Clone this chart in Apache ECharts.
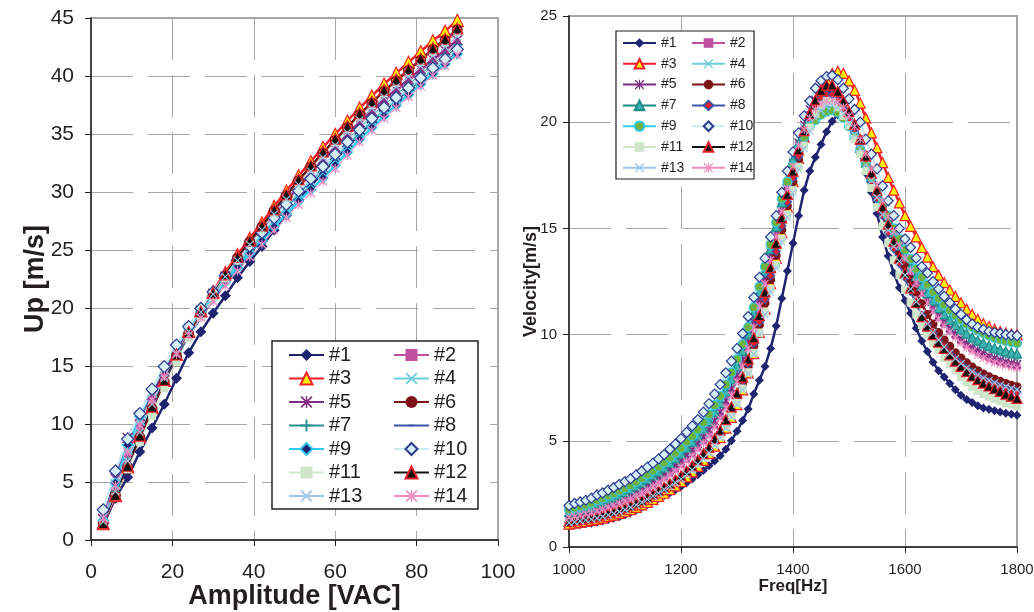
<!DOCTYPE HTML>
<html>
<head>
    <meta charset="utf-8">
    <title>Up and velocity of 14 transducers</title>
    <script src="https://cdn.jsdelivr.net/npm/echarts@6.0.0/dist/echarts.min.js"></script>
    <style>
        html, body { margin: 0; padding: 0; background: #fff; }
        #main { width: 1034px; height: 612px; }
    </style>
</head>
<body>
<div id="main"></div>
<script type="text/javascript">

    // ---- left chart: Up [m/s] vs Amplitude [VAC] ----
    var amplitude = [3,6,9,12,15,18,21,24,27,30,33,36,39,42,45,48,51,54,57,60,63,66,69,72,75,78,81,84,87,90];

    var up1  = [1.3,3.6,5.4,7.6,9.65,11.7,13.95,16.15,17.95,19.55,21.05,22.6,24.0,25.3,26.7,28.0,29.3,30.5,31.7,32.8,33.9,35.0,36.0,37.0,37.9,38.8,39.7,40.6,41.35,42.2];
    var up2  = [1.75,4.55,7.4,9.8,12.1,14.2,16.2,17.95,19.57,21.05,22.52,23.9,25.24,26.49,27.83,29.07,30.31,31.46,32.6,33.67,34.75,35.82,36.8,37.77,38.64,39.51,40.38,41.25,42.03,42.9];
    var up3  = [1.4,3.82,6.3,8.9,11.4,13.75,16.0,18.0,19.79,21.42,23.06,24.6,26.02,27.34,28.76,30.08,31.4,32.63,33.85,34.98,36.12,37.25,38.28,39.31,40.24,41.18,42.11,43.04,43.87,44.8];
    var up4  = [1.85,4.8,7.8,10.3,12.7,14.7,16.6,18.25,19.78,21.15,22.52,23.8,25.07,26.24,27.51,28.69,29.86,30.93,32.0,33.07,34.15,35.22,36.19,37.16,38.04,38.91,39.78,40.65,41.43,42.3];
    var up5  = [1.8,5.3,8.8,10.7,12.5,14.52,16.43,18.1,19.74,21.22,22.71,24.1,25.44,26.69,28.03,29.27,30.51,31.66,32.8,33.87,34.95,36.02,36.99,37.96,38.84,39.71,40.58,41.45,42.23,43.1];
    var up6  = [1.5,3.85,6.3,8.85,11.3,13.62,15.83,17.8,19.56,21.17,22.78,24.3,25.69,26.98,28.37,29.67,30.96,32.15,33.35,34.45,35.56,36.66,37.67,38.68,39.58,40.49,41.39,42.3,43.1,44.0];
    var up7  = [1.55,4.2,6.9,9.4,11.8,13.9,15.9,17.65,19.27,20.75,22.22,23.6,24.94,26.19,27.53,28.77,30.01,31.16,32.3,33.38,34.46,35.55,36.53,37.51,38.39,39.27,40.15,41.04,41.82,42.7];
    var up8  = [1.45,4.0,6.6,9.1,11.5,13.63,15.67,17.45,19.07,20.55,22.02,23.4,24.74,25.99,27.33,28.57,29.81,30.96,32.1,33.18,34.26,35.35,36.33,37.31,38.19,39.07,39.95,40.84,41.62,42.5];
    var up9  = [1.7,4.9,8.2,10.65,13.0,14.9,16.7,18.25,19.7,21.0,22.3,23.5,24.7,25.8,27.0,28.1,29.2,30.2,31.2,32.31,33.43,34.54,35.55,36.56,37.48,38.39,39.3,40.21,41.03,41.9];
    var up10 = [2.6,5.95,8.7,10.9,13.0,14.95,16.8,18.4,19.96,21.38,22.79,24.1,25.36,26.51,27.77,28.93,30.09,31.14,32.2,33.25,34.31,35.36,36.32,37.27,38.13,38.98,39.84,40.69,41.45,42.3];
    var up11 = [1.4,3.72,6.1,8.45,10.7,13.08,15.37,17.4,19.21,20.88,22.54,24.1,25.5,26.8,28.2,29.5,30.8,32.0,33.2,34.3,35.4,36.5,37.5,38.5,39.4,40.3,41.2,42.1,42.9,43.8];
    var up12 = [1.45,3.9,6.4,9.0,11.5,13.8,16.0,17.95,19.7,21.3,22.9,24.4,25.8,27.1,28.5,29.8,31.1,32.3,33.5,34.6,35.7,36.8,37.8,38.8,39.7,40.6,41.5,42.4,43.2,44.1];
    var up13 = [1.6,4.18,6.8,9.3,11.7,13.95,16.1,18.0,19.66,21.18,22.69,24.1,25.46,26.73,28.09,29.36,30.62,31.79,32.95,34.04,35.12,36.21,37.2,38.18,39.07,39.95,40.84,41.73,42.51,43.4];
    var up14 = [1.9,4.7,7.6,9.9,12.1,14.1,16.0,17.65,19.17,20.55,21.92,23.2,24.4,25.5,26.7,27.8,28.9,29.9,30.9,32.03,33.15,34.28,35.31,36.34,37.26,38.19,39.12,40.05,40.87,41.8];

    // ---- right chart: Velocity[m/s] vs Freq[Hz] ----
    var freq = [1000,1010,1020,1030,1040,1050,1060,1070,1080,1090,
                1100,1110,1120,1130,1140,1150,1160,1170,1180,1190,
                1200,1210,1220,1230,1240,1250,1260,1270,1280,1290,
                1300,1310,1320,1330,1340,1350,1360,1370,1380,1390,
                1400,1410,1420,1430,1440,1450,1460,1470,1480,1490,
                1500,1510,1520,1530,1540,1550,1560,1570,1580,1590,
                1600,1610,1620,1630,1640,1650,1660,1670,1680,1690,
                1700,1710,1720,1730,1740,1750,1760,1770,1780,1790,
                1800];

    var vel1 = [1.0,1.03,1.06,1.09,1.12,1.16,1.22,1.29,1.36,1.43,
                1.52,1.62,1.74,1.87,2.0,2.15,2.28,2.42,2.56,2.7,
                2.85,3.02,3.2,3.4,3.6,3.82,4.05,4.3,4.6,5.0,
                5.45,5.95,6.5,7.2,7.85,8.5,9.35,10.4,11.7,13.0,
                14.3,15.6,16.8,17.7,18.35,18.95,19.55,20.05,20.35,20.3,
                19.9,19.3,18.5,17.6,16.7,15.7,14.6,13.7,12.9,12.2,
                11.6,11.0,10.3,9.7,9.2,8.7,8.3,8.0,7.7,7.4,
                7.15,6.95,6.8,6.65,6.55,6.48,6.42,6.36,6.3,6.25,
                6.2];
    var vel2 = [1.43,1.48,1.54,1.6,1.66,1.75,1.83,1.92,2.02,2.12,
                2.22,2.34,2.48,2.61,2.77,2.94,3.1,3.28,3.47,3.67,
                3.88,4.13,4.38,4.67,4.99,5.32,5.73,6.15,6.66,7.25,
                7.88,8.62,9.45,10.42,11.44,12.48,13.59,14.69,15.86,16.93,
                17.97,18.94,19.7,20.35,20.8,21.05,21.2,21.2,21.05,20.7,
                20.25,19.7,19.05,18.35,17.6,16.85,16.1,15.4,14.7,14.05,
                13.45,12.9,12.4,11.95,11.55,11.15,10.8,10.5,10.2,9.95,
                9.7,9.5,9.32,9.17,9.03,8.9,8.8,8.7,8.62,8.56,
                8.5];
    var vel3 = [1.08,1.12,1.16,1.2,1.25,1.3,1.36,1.43,1.5,1.58,
                1.66,1.76,1.87,1.98,2.1,2.24,2.38,2.53,2.7,2.88,
                3.08,3.3,3.54,3.8,4.08,4.4,4.75,5.15,5.6,6.1,
                6.7,7.4,8.2,9.1,10.1,11.2,12.4,13.6,14.8,16.0,
                17.2,18.3,19.3,20.2,20.95,21.55,22.0,22.3,22.4,22.3,
                21.95,21.5,20.9,20.2,19.5,18.8,18.1,17.4,16.8,16.2,
                15.6,15.1,14.6,14.1,13.65,13.2,12.8,12.45,12.1,11.8,
                11.5,11.2,10.95,10.72,10.52,10.38,10.25,10.15,10.08,10.02,
                10.0];
    var vel4 = [1.58,1.65,1.71,1.77,1.85,1.95,2.04,2.14,2.24,2.36,
                2.47,2.59,2.74,2.89,3.06,3.23,3.4,3.59,3.79,4.01,
                4.23,4.49,4.76,5.05,5.38,5.73,6.15,6.58,7.1,7.68,
                8.3,9.03,9.85,10.8,11.8,12.8,13.88,14.95,16.1,17.15,
                18.15,19.05,19.75,20.3,20.65,20.9,21.0,21.0,20.85,20.5,
                20.05,19.5,18.9,18.2,17.5,16.8,16.1,15.45,14.8,14.2,
                13.65,13.15,12.7,12.25,11.85,11.5,11.15,10.85,10.55,10.3,
                10.08,9.88,9.7,9.55,9.4,9.28,9.17,9.08,9.0,8.94,
                8.9];
    var vel5 = [1.5,1.56,1.62,1.68,1.75,1.85,1.93,2.03,2.13,2.24,
                2.34,2.46,2.61,2.75,2.91,3.08,3.25,3.43,3.63,3.84,
                4.05,4.31,4.57,4.86,5.18,5.52,5.94,6.36,6.88,7.46,
                8.09,8.82,9.65,10.61,11.62,12.64,13.73,14.82,15.98,17.04,
                18.06,19.02,19.88,20.6,21.05,21.3,21.4,21.4,21.2,20.8,
                20.3,19.75,19.1,18.4,17.7,16.95,16.2,15.5,14.8,14.15,
                13.55,13.0,12.5,12.05,11.65,11.25,10.9,10.6,10.3,10.05,
                9.8,9.6,9.42,9.27,9.13,9.0,8.9,8.81,8.73,8.66,
                8.6];
    var vel6 = [1.17,1.21,1.26,1.3,1.35,1.41,1.48,1.55,1.63,1.71,
                1.8,1.91,2.03,2.15,2.3,2.45,2.59,2.76,2.92,3.09,
                3.28,3.5,3.73,4.0,4.28,4.57,4.94,5.32,5.79,6.36,
                6.98,7.69,8.5,9.45,10.44,11.48,12.58,13.72,14.93,16.06,
                17.19,18.24,19.18,20.0,20.65,21.12,21.4,21.5,21.3,20.9,
                20.4,19.85,19.2,18.45,17.7,16.9,16.1,15.35,14.6,13.9,
                13.25,12.6,12.0,11.45,10.95,10.5,10.1,9.75,9.45,9.15,
                8.9,8.67,8.47,8.3,8.15,8.02,7.9,7.8,7.7,7.62,
                7.55];
    var vel7 = [1.65,1.73,1.79,1.86,1.94,2.05,2.14,2.25,2.35,2.47,
                2.59,2.72,2.87,3.03,3.2,3.37,3.55,3.74,3.95,4.17,
                4.4,4.67,4.95,5.24,5.57,5.93,6.36,6.79,7.32,7.89,
                8.51,9.23,10.05,10.99,11.98,12.96,14.02,15.08,16.22,17.26,
                18.24,19.0,19.7,20.2,20.55,20.8,20.9,20.9,20.75,20.4,
                19.95,19.4,18.8,18.1,17.4,16.7,16.0,15.4,14.8,14.2,
                13.7,13.2,12.75,12.3,11.95,11.6,11.25,10.95,10.7,10.45,
                10.25,10.05,9.87,9.72,9.6,9.48,9.38,9.3,9.22,9.16,
                9.1];
    var vel8 = [1.18,1.22,1.27,1.32,1.36,1.42,1.49,1.57,1.65,1.73,
                1.82,1.93,2.05,2.17,2.32,2.47,2.61,2.78,2.94,3.11,
                3.3,3.52,3.76,4.03,4.32,4.61,5.0,5.38,5.86,6.44,
                7.07,7.8,8.62,9.59,10.6,11.65,12.77,13.91,15.12,16.24,
                17.36,18.39,19.32,20.13,20.78,21.15,21.3,21.3,21.05,20.6,
                20.1,19.5,18.8,18.0,17.2,16.4,15.6,14.8,14.05,13.35,
                12.7,12.05,11.45,10.9,10.45,10.05,9.7,9.4,9.1,8.85,
                8.62,8.4,8.22,8.05,7.9,7.77,7.65,7.55,7.45,7.37,
                7.3];
    var vel9 = [1.76,1.85,1.91,1.99,2.07,2.2,2.29,2.41,2.52,2.65,
                2.77,2.9,3.07,3.24,3.41,3.59,3.78,3.97,4.2,4.43,
                4.66,4.95,5.23,5.53,5.86,6.24,6.68,7.11,7.65,8.21,
                8.83,9.54,10.35,11.28,12.25,13.2,14.24,15.28,16.4,17.2,
                17.9,18.7,19.3,19.8,20.1,20.35,20.5,20.55,20.45,20.2,
                19.8,19.3,18.7,18.1,17.4,16.8,16.2,15.6,15.0,14.5,
                14.0,13.55,13.1,12.7,12.35,12.0,11.7,11.4,11.15,10.9,
                10.7,10.5,10.35,10.2,10.07,9.95,9.85,9.77,9.7,9.65,
                9.6];
    var vel10 = [1.95,2.05,2.12,2.2,2.3,2.45,2.55,2.68,2.8,2.95,
                3.08,3.22,3.4,3.58,3.76,3.95,4.15,4.35,4.6,4.85,
                5.1,5.4,5.7,6.0,6.35,6.75,7.2,7.65,8.2,8.75,
                9.35,10.05,10.85,11.75,12.7,13.6,14.6,15.6,16.7,17.7,
                18.6,19.5,20.3,21.0,21.6,21.95,22.15,22.2,22.0,21.6,
                21.1,20.6,20.0,19.2,18.5,17.8,17.0,16.3,15.6,15.0,
                14.5,14.1,13.6,13.2,12.9,12.5,12.15,11.8,11.5,11.2,
                10.95,10.7,10.5,10.35,10.25,10.15,10.1,10.05,10.0,9.97,
                9.95];
    var vel11 = [1.16,1.2,1.24,1.28,1.33,1.38,1.45,1.52,1.6,1.68,
                1.77,1.88,2.0,2.12,2.27,2.42,2.56,2.72,2.88,3.05,
                3.23,3.44,3.66,3.92,4.2,4.48,4.83,5.2,5.64,6.18,
                6.78,7.46,8.23,9.14,10.1,11.08,12.15,13.28,14.5,15.65,
                16.8,17.9,18.9,19.75,20.4,20.8,21.0,20.95,20.7,20.3,
                19.85,19.2,18.5,17.7,16.9,16.0,15.1,14.3,13.5,12.8,
                12.1,11.5,10.95,10.45,10.0,9.6,9.25,8.9,8.6,8.3,
                8.0,7.75,7.53,7.35,7.2,7.08,6.97,6.87,6.78,6.7,
                6.62];
    var vel12 = [1.2,1.24,1.29,1.34,1.39,1.45,1.52,1.6,1.68,1.76,
                1.85,1.96,2.08,2.2,2.35,2.5,2.65,2.82,2.98,3.16,
                3.35,3.58,3.82,4.1,4.4,4.7,5.1,5.5,6.0,6.6,
                7.25,8.0,8.85,9.85,10.9,12.0,13.15,14.3,15.5,16.6,
                17.7,18.7,19.6,20.4,21.05,21.5,21.75,21.75,21.45,21.0,
                20.5,19.9,19.2,18.4,17.6,16.8,16.0,15.2,14.4,13.6,
                12.9,12.2,11.5,10.85,10.4,10.0,9.65,9.35,9.05,8.75,
                8.5,8.25,8.05,7.88,7.72,7.58,7.45,7.33,7.2,7.1,
                7.0];
    var vel13 = [1.14,1.18,1.22,1.27,1.31,1.36,1.43,1.51,1.58,1.66,
                1.75,1.86,1.98,2.1,2.25,2.4,2.54,2.7,2.85,3.02,
                3.2,3.41,3.63,3.89,4.16,4.44,4.79,5.14,5.58,6.12,
                6.71,7.39,8.15,9.06,9.99,10.95,12.01,13.13,14.36,15.52,
                16.68,17.77,18.76,19.59,20.2,20.55,20.75,20.8,20.7,20.4,
                19.95,19.4,18.75,18.0,17.25,16.45,15.65,14.9,14.15,13.45,
                12.8,12.15,11.55,11.0,10.5,10.1,9.75,9.42,9.13,8.87,
                8.64,8.43,8.25,8.1,7.96,7.84,7.73,7.63,7.55,7.47,
                7.4];
    var vel14 = [1.39,1.44,1.5,1.56,1.62,1.7,1.78,1.87,1.96,2.06,
                2.16,2.28,2.41,2.55,2.7,2.86,3.03,3.2,3.39,3.58,
                3.79,4.04,4.29,4.58,4.89,5.21,5.63,6.04,6.55,7.14,
                7.78,8.51,9.35,10.33,11.35,12.4,13.51,14.63,15.8,16.88,
                17.93,18.9,19.65,20.2,20.6,20.85,21.0,21.05,20.95,20.7,
                20.3,19.8,19.2,18.5,17.8,17.05,16.3,15.55,14.85,14.2,
                13.6,13.0,12.45,11.95,11.5,11.1,10.75,10.42,10.12,9.85,
                9.6,9.38,9.2,9.04,8.9,8.78,8.68,8.6,8.53,8.47,
                8.42];

    var names = ['#1','#2','#3','#4','#5','#6','#7','#8','#9','#10','#11','#12','#13','#14'];
    var upData = [up1, up2, up3, up4, up5, up6, up7, up8, up9, up10, up11, up12, up13, up14];
    var velData = [vel1, vel2, vel3, vel4, vel5, vel6, vel7, vel8, vel9, vel10, vel11, vel12, vel13, vel14];

    // marker shapes that echarts does not have built in
    var xMark = 'path://M1,0 L5,4 L9,0 L10,1 L6,5 L10,9 L9,10 L5,6 L1,10 L0,9 L4,5 L0,1 Z';
    var starMark = 'path://M1,0 L5,4 L9,0 L10,1 L6,5 L10,9 L9,10 L5,6 L1,10 L0,9 L4,5 L0,1 Z M4.4,0 L5.6,0 L5.6,10 L4.4,10 Z';
    var plusMark = 'path://M4.2,0 L5.8,0 L5.8,4.2 L10,4.2 L10,5.8 L5.8,5.8 L5.8,10 L4.2,10 L4.2,5.8 L0,5.8 L0,4.2 L4.2,4.2 Z';
    // tiny corner specks keep the box square so the dash stays thin in the legend too
    var dashMark = 'path://M0,0 L0.01,0 L0,0.01 Z M10,10 L9.99,10 L10,9.99 Z M2,4.3 L8,4.3 L8,5.7 L2,5.7 Z';

    var navy = '#1F2470';

    // style per series: line colour, line width, symbol, size, fill, border
    var leftStyle = [
        { line: navy,      w: 2.5, sym: 'diamond',  size: 11, fill: navy,      border: navy },
        { line: '#C050A0', w: 1,   sym: 'rect',     size: 7,  fill: '#C050A0', border: '#C050A0' },
        { line: '#F0202A', w: 2.5, sym: 'triangle', size: 12, fill: '#FFF200', border: '#F0202A' },
        { line: '#6CCFDA', w: 2.5, sym: xMark,      size: 11, fill: '#6CCFDA', border: '#6CCFDA' },
        { line: '#7F2C83', w: 2.5, sym: starMark,   size: 11, fill: '#7F2C83', border: '#7F2C83' },
        { line: '#7D1418', w: 2.5, sym: 'circle',   size: 11, fill: '#7D1418', border: '#7D1418' },
        { line: '#2A9090', w: 1,   sym: plusMark,   size: 8,  fill: '#2A9090', border: '#2A9090' },
        { line: '#3A56A8', w: 1,   sym: dashMark,   size: 10, fill: '#3A56A8', border: '#3A56A8' },
        { line: '#33C8F0', w: 2.5, sym: 'diamond',  size: 10, fill: navy,      border: '#33C8F0' },
        { line: '#CDEBF2', w: 2.5, sym: 'diamond',  size: 12, fill: '#D6EFF7', border: '#2B3A8F' },
        { line: '#D2E8CC', w: 1,   sym: 'rect',     size: 8,  fill: '#CFE5C8', border: '#CFE5C8' },
        { line: '#111111', w: 1,   sym: 'triangle', size: 11, fill: '#111111', border: '#E8202A' },
        { line: '#9CC7EA', w: 1,   sym: xMark,      size: 8,  fill: '#9CC7EA', border: '#9CC7EA' },
        { line: '#F08CC0', w: 1,   sym: starMark,   size: 9,  fill: '#F08CC0', border: '#F08CC0' }
    ];

    var rightStyle = [
        { line: navy,      w: 2.5, sym: 'diamond',  size: 9,  fill: navy,      border: navy },
        { line: '#C050A0', w: 1,   sym: 'rect',     size: 7,  fill: '#C050A0', border: '#C050A0' },
        { line: '#F0202A', w: 2.5, sym: 'triangle', size: 10, fill: '#FFF200', border: '#F0202A' },
        { line: '#6CCFDA', w: 2.5, sym: xMark,      size: 9,  fill: '#6CCFDA', border: '#6CCFDA' },
        { line: '#7F2C83', w: 2.5, sym: starMark,   size: 9,  fill: '#7F2C83', border: '#7F2C83' },
        { line: '#7D1418', w: 2.5, sym: 'circle',   size: 9,  fill: '#7D1418', border: '#7D1418' },
        { line: '#1F8A86', w: 2.5, sym: 'triangle', size: 9,  fill: '#3BB3B3', border: '#1F8A86' },
        { line: '#3A56A8', w: 2.5, sym: 'diamond',  size: 8,  fill: '#E0202A', border: '#3A56A8' },
        { line: '#33C8F0', w: 2.5, sym: 'circle',   size: 9,  fill: '#6DB33F', border: '#33C8F0' },
        { line: '#CDEBF2', w: 2.5, sym: 'diamond',  size: 10, fill: '#D6EFF7', border: '#2B3A8F' },
        { line: '#D2E8CC', w: 1,   sym: 'rect',     size: 8,  fill: '#CFE5C8', border: '#CFE5C8' },
        { line: '#111111', w: 1,   sym: 'triangle', size: 10, fill: '#111111', border: '#E8202A' },
        { line: '#9CC7EA', w: 1,   sym: xMark,      size: 8,  fill: '#9CC7EA', border: '#9CC7EA' },
        { line: '#F08CC0', w: 1,   sym: starMark,   size: 8,  fill: '#F08CC0', border: '#F08CC0' }
    ];

    var font = 'Arial, "Liberation Sans", Helvetica, sans-serif';
    var ink = '#231F20';
    var gridDash = { color: '#A6A6A6', width: 1, type: [42, 15] };

    function pairs(xs, ys) {
        var out = [];
        for (var i = 0; i < xs.length; i++) {
            out.push([xs[i], ys[i]]);
        }
        return out;
    }

    function makeSeries(prefix, idx, xs, ys, st, gridIndex) {
        var thinBorder = (st.fill !== st.border) ? 1.2 : 0;
        return {
            name: prefix + names[idx],
            type: 'line',
            xAxisIndex: gridIndex,
            yAxisIndex: gridIndex,
            data: pairs(xs, ys),
            symbol: st.sym,
            symbolSize: st.size,
            symbolKeepAspect: true,
            showSymbol: true,
            lineStyle: { color: st.line, width: st.w },
            itemStyle: { color: st.fill, borderColor: st.border, borderWidth: thinBorder },
            emphasis: { disabled: true },
            silent: true,
            animation: false
        };
    }

    function valueAxis(gridIndex, min, max, interval, labelSize, margin, name, nameSize, nameGap) {
        return {
            type: 'value',
            gridIndex: gridIndex,
            min: min,
            max: max,
            interval: interval,
            axisLine: { show: true, onZero: false, lineStyle: { color: ink, width: 1.5 } },
            axisTick: { show: true, length: 6, lineStyle: { color: ink, width: 1 } },
            axisLabel: {
                fontSize: labelSize, color: ink, margin: margin, fontFamily: font,
                formatter: function (v) { return String(v); }
            },
            splitLine: { show: true, lineStyle: gridDash },
            name: name,
            nameLocation: 'middle',
            nameGap: nameGap,
            nameMoveOverlap: false,
            nameTextStyle: { fontSize: nameSize, fontWeight: 'bold', color: ink, fontFamily: font }
        };
    }

    function legendColumn(list, left, top, itemW, itemH, gap, fontSize) {
        return {
            data: list,
            orient: 'vertical',
            left: left,
            top: top,
            itemWidth: itemW,
            itemHeight: itemH,
            itemGap: gap,
            padding: 0,
            selectedMode: false,
            z: 10,
            formatter: function (n) { return n.substring(1); },
            textStyle: { fontSize: fontSize, color: ink, fontFamily: font }
        };
    }

    function buildChart() {
        var chart = echarts.init(document.getElementById('main'), null, { renderer: 'canvas' });

        var series = [];
        for (var i = 0; i < 14; i++) {
            series.push(makeSeries('L', i, amplitude, upData[i], leftStyle[i], 0));
        }
        for (var j = 0; j < 14; j++) {
            series.push(makeSeries('R', j, freq, velData[j], rightStyle[j], 1));
        }

        var lOdd = [], lEven = [], rOdd = [], rEven = [];
        for (var k = 0; k < 14; k++) {
            if (k % 2 === 0) { lOdd.push('L' + names[k]); rOdd.push('R' + names[k]); }
            else { lEven.push('L' + names[k]); rEven.push('R' + names[k]); }
        }

        var option = {
            animation: false,
            backgroundColor: '#ffffff',
            textStyle: { fontFamily: font },
            grid: [
                { left: 91, top: 18, width: 407, height: 522, show: true, borderColor: '#A6A6A6', borderWidth: 2,
                  containLabel: false, outerBoundsMode: 'none' },
                { left: 569, top: 16, width: 448, height: 531, show: true, borderColor: '#A6A6A6', borderWidth: 2,
                  containLabel: false, outerBoundsMode: 'none' }
            ],
            xAxis: [
                valueAxis(0, 0, 100, 20, 21, 22, 'Amplitude [VAC]', 27, 43),
                valueAxis(1, 1000, 1800, 200, 15, 15, 'Freq[Hz]', 17, 31)
            ],
            yAxis: [
                valueAxis(0, 0, 45, 5, 21, 17, 'Up [m/s]', 27, 42),
                valueAxis(1, 0, 25, 5, 15, 12, 'Velocity[m/s]', 18, 29)
            ],
            legend: [
                legendColumn(lOdd, 288, 345, 35, 15, 3.5, 20),
                legendColumn(lEven, 393, 345, 35, 15, 3.5, 20),
                legendColumn(rOdd, 622, 36, 33, 12, 6.8, 14),
                legendColumn(rEven, 691, 36, 33, 12, 6.8, 14)
            ],
            graphic: [
                { type: 'rect', z: 5, silent: true, shape: { x: 272, y: 341, width: 206, height: 168 },
                  style: { fill: '#ffffff', stroke: ink, lineWidth: 1.5 } },
                { type: 'rect', z: 5, silent: true, shape: { x: 616, y: 31, width: 138, height: 148 },
                  style: { fill: '#ffffff', stroke: ink, lineWidth: 1.2 } }
            ],
            series: series
        };

        chart.setOption(option);
    }

    buildChart();

</script>
</body>
</html>
